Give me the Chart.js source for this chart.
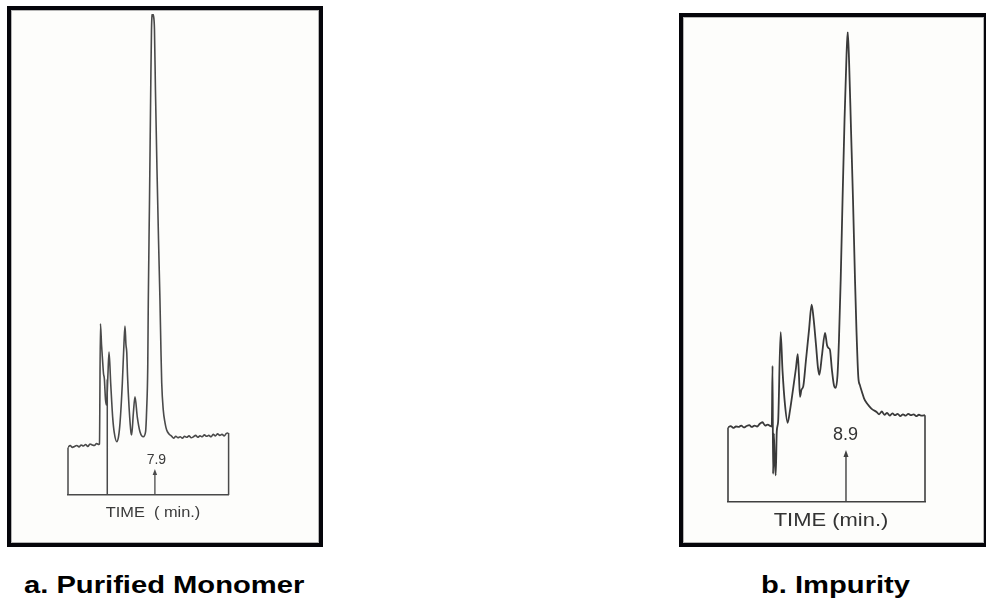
<!DOCTYPE html>
<html>
<head>
<meta charset="utf-8">
<script src="https://cdn.jsdelivr.net/npm/chart.js@4.4.0/dist/chart.umd.min.js"></script>
<style>
  html, body { margin: 0; padding: 0; background: #fff; }
  body { width: 986px; height: 611px; overflow: hidden; position: relative;
         font-family: "Liberation Sans", Arial, sans-serif; }
  .frame { position: absolute; box-sizing: border-box; border: 4px solid #05050a;
           background: #fdfdfb; box-shadow: inset 0 0 0 1px #b5b5b5; }
  #frameA { left: 7px; top: 6px; width: 316px; height: 541px; }
  #frameB { left: 679px; top: 13px; width: 309px; height: 534px; }
  .frame canvas { position: absolute; left: 0; top: 0; }
  .caption { position: absolute; font-weight: bold; font-size: 24px; line-height: 24px;
             color: #000; white-space: nowrap; transform-origin: 0 0; transform: scaleX(1.215); }
  #capA { left: 24px; top: 573px; }
  #capB { left: 761px; top: 573px; }
</style>
</head>
<body>
<div class="frame" id="frameA"><canvas id="chartA" width="308" height="533"></canvas></div>
<div class="frame" id="frameB"><canvas id="chartB" width="301" height="526"></canvas></div>
<div class="caption" id="capA">a. Purified Monomer</div>
<div class="caption" id="capB">b. Impurity</div>

<script>
// ---- a. Purified monomer: time (min) and detector response (% of main peak) ----
const timeA = [0, 0.2, 0.4, 0.6, 0.8, 1.0, 1.2, 1.4, 1.6, 1.8, 2.0, 2.2, 2.4, 2.6, 2.8,
  2.86, 2.95, 3.05, 3.14, 3.23, 3.30, 3.41, 3.50, 3.62, 3.73,
  3.88, 4.06, 4.21, 4.43, 4.59, 4.73, 4.94, 5.09, 5.18, 5.27,
  5.34, 5.41, 5.55, 5.73, 5.79, 5.94, 6.09, 6.30, 6.55, 6.85,
  7.05, 7.15, 7.25, 7.30, 7.41, 7.52, 7.59, 7.68, 7.77, 7.86,
  7.95, 8.09, 8.23, 8.36, 8.45, 8.52, 8.66, 8.82, 8.97, 9.18, 9.43,
  9.6, 9.8, 10.0, 10.2, 10.4, 10.6, 10.8, 11.0, 11.2, 11.4, 11.6, 11.8, 12.0,
  12.2, 12.4, 12.6, 12.8, 13.0, 13.2, 13.4, 13.6, 13.8, 14.0, 14.2, 14.4, 14.6];
const respA = [9.9, 10.3, 9.9, 10.1, 10.3, 10.0, 10.4, 10.2, 10.5, 10.1, 10.6, 10.4, 10.3, 10.7, 10.5,
  10.6, 35.6, 31.2, 28.1, 25.2, 24.3, 19.8, 18.7, 24.5, 29.7,
  23.3, 16.2, 12.9, 11.1, 12.1, 15.0, 23.3, 31.6, 35.1, 31.2,
  29.7, 24.9, 18.3, 12.9, 12.5, 17.0, 20.4, 16.2, 13.1, 12.1,
  13.1, 17.7, 26.6, 40.5, 61.3, 84.2, 96.7, 100, 99.6, 96.8,
  84.2, 67.6, 53.0, 40.5, 30.1, 23.3, 17.7, 15.0, 13.5, 12.7, 12.2,
  11.8, 12.2, 11.9, 12.1, 11.8, 12.2, 12.0, 12.3, 11.9, 12.1, 12.4, 12.0, 12.3,
  12.1, 12.5, 12.2, 12.4, 12.1, 12.6, 12.3, 12.7, 12.4, 12.6, 12.3, 12.8, 12.9];
const retentionA = 7.9;
const markTimeA = [3.57];   // injection pen mark
const markTopA = [24];

// ---- b. Impurity ----
const timeB = [0, 0.2, 0.4, 0.6, 0.8, 1.0, 1.2, 1.4, 1.6, 1.8, 2.0, 2.2, 2.4, 2.6, 2.8, 3.0, 3.2,
  3.30, 3.36, 3.40, 3.46, 3.52, 3.60, 3.68, 3.78,
  3.97, 4.11, 4.30, 4.50, 4.68, 4.90, 5.13, 5.26, 5.35, 5.43,
  5.54, 5.68, 5.88, 6.11, 6.31, 6.45, 6.64, 6.79, 6.89, 7.09,
  7.32, 7.47, 7.58, 7.69, 7.84, 7.99, 8.12, 8.26, 8.37, 8.50,
  8.64, 8.79, 8.94, 9.03, 9.13, 9.28, 9.43, 9.58, 9.69, 9.83,
  9.95, 10.11, 10.26, 10.46, 10.63, 10.86, 11.21,
  11.4, 11.6, 11.8, 12.0, 12.2, 12.4, 12.6, 12.8, 13.0, 13.2, 13.4, 13.6, 13.8,
  14.0, 14.2, 14.4, 14.6, 14.86];
const respB = [15.8, 16.1, 15.7, 16.0, 15.9, 16.2, 15.8, 16.1, 16.3, 15.9, 16.2, 16.0, 16.6, 16.9, 16.2, 16.4, 16.1,
  16.0, 28.9, 5.9, 14.5, 9.0, 5.6, 15.0, 17.0,
  36.1, 28.0, 20.6, 16.8, 19.5, 23.8, 28.5, 31.4, 27.0, 22.3,
  23.8, 24.6, 30.1, 36.5, 41.9, 39.1, 33.3, 28.4, 27.0, 31.2,
  35.9, 33.3, 32.7, 32.3, 28.0, 24.8, 24.2, 26.9, 34.4, 47.2,
  64.2, 81.2, 95.0, 100, 94.0, 79.1, 64.2, 47.2, 36.5, 26.5,
  24.8, 23.3, 22.0, 21.0, 20.4, 19.7, 19.1,
  18.6, 19.2, 18.5, 18.9, 18.3, 18.8, 18.4, 18.7, 18.2, 18.6, 18.3, 18.7, 18.4,
  18.6, 18.2, 18.5, 18.3, 18.4];
const retentionB = 8.9;
const markTimeB = [];
const markTopB = [];

Chart.defaults.font.family = "'Liberation Sans', Arial, sans-serif";

// Bracket ends, pen marks, retention arrow + value and the time caption.
function chromatogramDecor(cfg) {
  return {
    id: 'chromatogramDecor',
    afterDatasetsDraw(chart) {
      const { ctx, chartArea: area, scales: { x, y } } = chart;
      const pts = chart.data.datasets[0].data;
      const first = pts[0], last = pts[pts.length - 1];
      const base = y.getPixelForValue(0);
      ctx.save();
      ctx.strokeStyle = cfg.ink;
      ctx.fillStyle = cfg.ink;
      ctx.lineWidth = cfg.frameWidth;
      ctx.beginPath();
      [first, last].forEach(p => {
        const px = x.getPixelForValue(p.x);
        ctx.moveTo(px, y.getPixelForValue(p.y));
        ctx.lineTo(px, base);
      });
      cfg.markTimes.forEach((t, i) => {
        const px = x.getPixelForValue(t);
        ctx.moveTo(px, base);
        ctx.lineTo(px, y.getPixelForValue(cfg.markTops[i]));
      });
      ctx.stroke();

      // retention arrow
      const ax = x.getPixelForValue(cfg.retention);
      const tip = base - cfg.arrowLength;
      ctx.lineWidth = cfg.arrowWidth;
      ctx.beginPath();
      ctx.moveTo(ax, base);
      ctx.lineTo(ax, tip + cfg.headLength - 1);
      ctx.stroke();
      ctx.beginPath();
      ctx.moveTo(ax, tip);
      ctx.lineTo(ax - cfg.headWidth / 2, tip + cfg.headLength);
      ctx.lineTo(ax + cfg.headWidth / 2, tip + cfg.headLength);
      ctx.closePath();
      ctx.fill();

      ctx.fillStyle = cfg.textColor;
      ctx.textAlign = 'center';
      ctx.textBaseline = 'middle';
      ctx.font = cfg.valueSize + "px 'Liberation Sans', Arial, sans-serif";
      ctx.fillText(cfg.retention.toFixed(1), ax + cfg.valueDx, tip - cfg.valueGap);

      // time axis caption
      ctx.translate((area.left + area.right) / 2 + cfg.captionDx, base + cfg.captionGap);
      ctx.scale(cfg.captionStretch, 1);
      ctx.font = cfg.captionSize + "px 'Liberation Sans', Arial, sans-serif";
      ctx.fillText(cfg.caption, 0, 0);
      ctx.restore();
    }
  };
}

function buildChart(id, times, resp, lineColor, lineWidth, padding, decor) {
  const points = times.map((t, i) => ({ x: t, y: resp[i] }));
  return new Chart(document.getElementById(id), {
    type: 'line',
    data: {
      datasets: [{
        data: points,
        borderColor: lineColor,
        borderWidth: lineWidth,
        pointRadius: 0,
        cubicInterpolationMode: 'monotone',
        fill: false
      }]
    },
    options: {
      responsive: false,
      animation: false,
      devicePixelRatio: 1,
      events: [],
      layout: { padding: padding, autoPadding: false },
      plugins: { legend: { display: false }, tooltip: { enabled: false } },
      scales: {
        x: {
          type: 'linear',
          min: 0,
          max: times[times.length - 1],
          grid: { display: false, drawTicks: false },
          ticks: { display: false },
          border: { display: true, color: decor.ink, width: decor.frameWidth }
        },
        y: { display: false, min: 0, max: 100 }
      }
    },
    plugins: [chromatogramDecor(decor)]
  });
}

buildChart('chartA', timeA, respA, '#4a4a4a', 1.6,
  { left: 57, right: 90.4, top: 4, bottom: 48 },
  { ink: '#4a4a4a', frameWidth: 1.5, arrowWidth: 1.3, textColor: '#3a3a3a',
    retention: retentionA, markTimes: markTimeA, markTops: markTopA,
    arrowLength: 26, headLength: 6, headWidth: 4.5,
    valueSize: 14, valueDx: 1.5, valueGap: 8.6,
    caption: 'TIME  ( min.)', captionSize: 14, captionStretch: 1.17, captionDx: 4.7, captionGap: 18 });

buildChart('chartB', timeB, respB, '#3a3a3a', 1.8,
  { left: 45, right: 59, top: 14.7, bottom: 41.3 },
  { ink: '#404040', frameWidth: 1.6, arrowWidth: 1.4, textColor: '#333',
    retention: retentionB, markTimes: markTimeB, markTops: markTopB,
    arrowLength: 51.7, headLength: 7, headWidth: 5,
    valueSize: 18, valueDx: -0.5, valueGap: 15,
    caption: 'TIME (min.)', captionSize: 18, captionStretch: 1.22, captionDx: 4.5, captionGap: 19.3 });
</script>
</body>
</html>
